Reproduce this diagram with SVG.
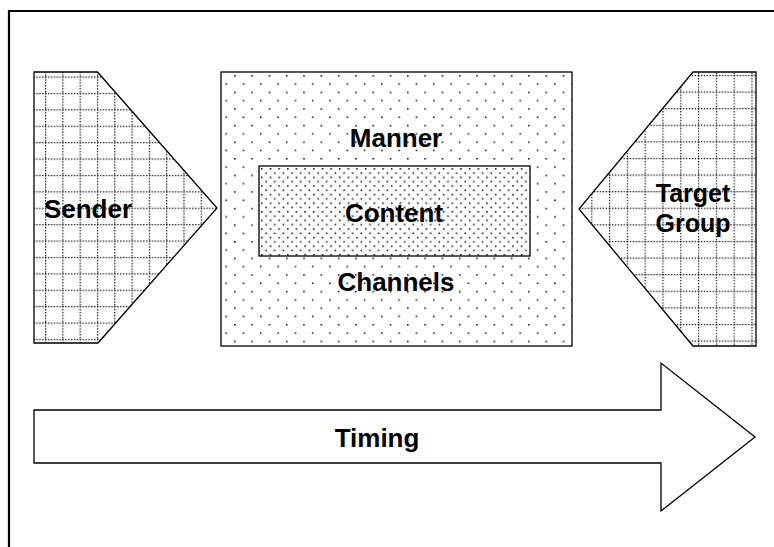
<svg xmlns="http://www.w3.org/2000/svg" width="774" height="547" viewBox="0 0 774 547">
<style>
.lbl{font-family:"Liberation Sans",Arial,sans-serif;font-weight:bold;font-size:26px;fill:#000;text-anchor:middle}
.tg{font-size:25px}
.shape{stroke:#000;stroke-width:1.3}
</style>
<defs>
<pattern id="gridL" patternUnits="userSpaceOnUse" x="45" y="76.5" width="17.3" height="16.4">
<rect width="17.3" height="16.4" fill="#fff"/>
<line x1="0" y1="0.5" x2="17.3" y2="0.5" stroke="#111" stroke-width="1.4" stroke-dasharray="1.4 1.5"/>
<line x1="0.5" y1="0" x2="0.5" y2="16.4" stroke="#111" stroke-width="1.4" stroke-dasharray="1.4 1.5"/>
</pattern>
<pattern id="gridR" patternUnits="userSpaceOnUse" x="698" y="91.5" width="17.8" height="16.6">
<rect width="17.8" height="16.6" fill="#fff"/>
<line x1="0" y1="0.5" x2="17.8" y2="0.5" stroke="#111" stroke-width="1.4" stroke-dasharray="1.4 1.5"/>
<line x1="0.5" y1="0" x2="0.5" y2="16.6" stroke="#111" stroke-width="1.4" stroke-dasharray="1.4 1.5"/>
</pattern>
<pattern id="dotsSparse" patternUnits="userSpaceOnUse" x="234" y="75" width="17.3" height="16.6">
<rect width="17.3" height="16.6" fill="#fff"/>
<rect x="0" y="0" width="1.6" height="1.6" fill="#222"/>
<rect x="8.65" y="8.3" width="1.6" height="1.6" fill="#222"/>
</pattern>
<pattern id="dotsDense" patternUnits="userSpaceOnUse" x="261" y="168" width="8.66" height="8.6">
<rect width="8.66" height="8.6" fill="#fff"/>
<rect x="0" y="0" width="1.6" height="1.6" fill="#222"/>
<rect x="4.33" y="4.3" width="1.6" height="1.6" fill="#222"/>
</pattern>
</defs>
<g id="frame">
<path d="M9,547 V11 H774" fill="none" stroke="#000" stroke-width="2.2"/>
</g>
<g id="sender">
<polygon class="shape" points="34,72 97.5,72 217,208 98,343 34,343" fill="url(#gridL)"/>
<text class="lbl" x="88" y="218">Sender</text>
</g>
<g id="manner-box">
<rect class="shape" x="221" y="72" width="351" height="274" fill="url(#dotsSparse)"/>
<text class="lbl" x="396" y="147">Manner</text>
<text class="lbl" x="396" y="291">Channels</text>
</g>
<g id="content">
<rect class="shape" x="259" y="166" width="271" height="90" fill="url(#dotsDense)"/>
<text class="lbl" x="394" y="222">Content</text>
</g>
<g id="target-group">
<polygon class="shape" points="693,72 756,72 756,346 693,346 579,209" fill="url(#gridR)"/>
<text class="lbl tg" x="693" y="202">Target</text>
<text class="lbl tg" x="693" y="232">Group</text>
</g>
<g id="connectors">
<g id="timing">
<polygon class="shape" points="34,410 661,410 661,363 755,437 661,511 661,463 34,463" fill="#fff"/>
<text class="lbl" x="377" y="447">Timing</text>
</g>
</g>
</svg>
